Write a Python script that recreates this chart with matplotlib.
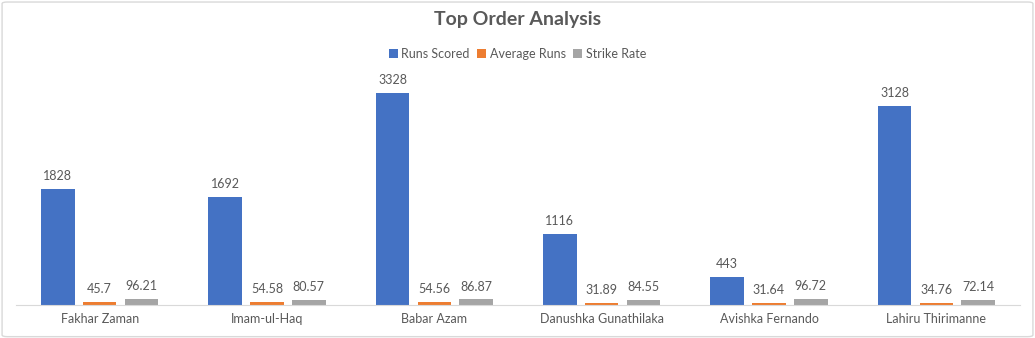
import numpy as np
import matplotlib.pyplot as plt
from matplotlib.patches import FancyBboxPatch

# Chart data
players = ['Fakhar Zaman', 'Imam-ul-Haq', 'Babar Azam', 'Danushka Gunathilaka',
           'Avishka Fernando', 'Lahiru Thirimanne']
runs_scored = [1828, 1692, 3328, 1116, 443, 3128]
average_runs = [45.7, 54.58, 54.56, 31.89, 31.64, 34.76]
strike_rate = [96.21, 80.57, 86.87, 84.55, 96.72, 72.14]
series_names = ['Runs Scored', 'Average Runs', 'Strike Rate']

colors = ['#4472C4', '#ED7D31', '#A5A5A5']
text_color = '#595959'
plt.rcParams['font.family'] = ['Lato', 'DejaVu Sans']

fig = plt.figure(figsize=(10.35, 3.38), dpi=100)
ax = fig.add_axes([16 / 1035, 33 / 338, 1004 / 1035, 223 / 338])

x = np.arange(len(players))
width = 0.2
offsets = [-0.25, 0, 0.25]
all_series = [runs_scored, average_runs, strike_rate]

for vals, off, col, name in zip(all_series, offsets, colors, series_names):
    bars = ax.bar(x + off, vals, width, color=col, label=name)
    for b, v in zip(bars, vals):
        ax.annotate(f'{v:g}', (b.get_x() + b.get_width() / 2, b.get_height()),
                    xytext=(0, 5), textcoords='offset points',
                    ha='center', va='bottom', fontsize=9, color=text_color)

ax.set_xlim(-0.5, len(players) - 0.5)
ax.set_ylim(0, 3500)
ax.set_yticks([])
ax.set_xticks(x)
ax.set_xticklabels(players, fontsize=9, color=text_color)
ax.tick_params(axis='x', length=0, pad=6)
for s in ['top', 'right', 'left']:
    ax.spines[s].set_visible(False)
ax.spines['bottom'].set_color('#D9D9D9')

fig.text(0.5, 1 - 20 / 338, 'Top Order Analysis', ha='center', va='center',
         fontsize=14, fontweight='bold', color=text_color)
fig.legend(loc='center', bbox_to_anchor=(0.5, 1 - 54 / 338), ncol=3, frameon=False,
           fontsize=9, labelcolor=text_color, handlelength=0.7, handleheight=0.7,
           handletextpad=0.3, columnspacing=0.6)

# light border around the chart
border = FancyBboxPatch((0.002, 0.004), 0.996, 0.99, boxstyle='round,pad=0,rounding_size=0.005',
                        transform=fig.transFigure, fill=False, edgecolor='#D9D9D9', linewidth=1)
fig.patches.append(border)

fig.savefig('out.png', dpi=100)
